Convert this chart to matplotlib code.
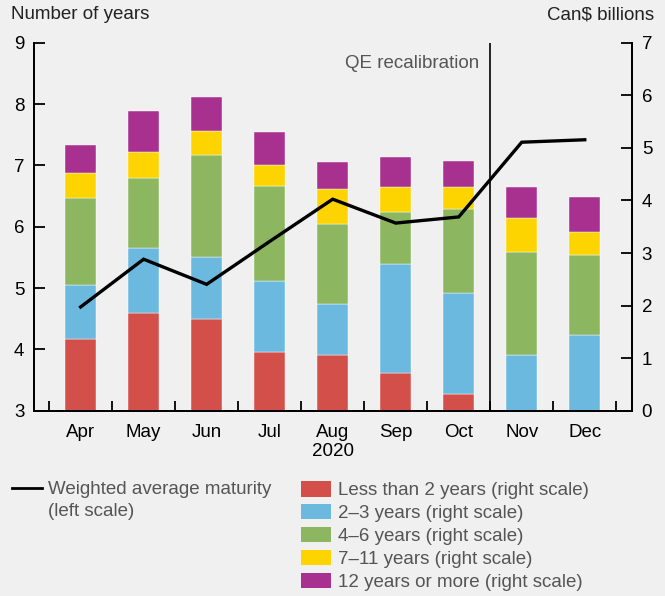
import matplotlib
matplotlib.use("Agg")
import matplotlib.pyplot as plt
import numpy as np
from matplotlib.lines import Line2D
from matplotlib.patches import Patch

plt.rcParams['font.family'] = ['Liberation Sans', 'DejaVu Sans']

# data
months = ['Apr', 'May', 'Jun', 'Jul', 'Aug\n2020', 'Sep', 'Oct', 'Nov', 'Dec']
wam = [4.69, 5.47, 5.06, 5.76, 6.45, 6.06, 6.16, 7.38, 7.42]  # years, left scale

lt2 = [1.36, 1.86, 1.75, 1.12, 1.06, 0.72, 0.32, 0.0, 0.0]
y2_3 = [1.04, 1.24, 1.18, 1.34, 0.96, 2.08, 1.91, 1.05, 1.44]
y4_6 = [1.65, 1.32, 1.94, 1.81, 1.54, 0.98, 1.61, 1.97, 1.52]
y7_11 = [0.47, 0.50, 0.45, 0.40, 0.65, 0.47, 0.42, 0.65, 0.44]
y12p = [0.54, 0.78, 0.65, 0.64, 0.53, 0.58, 0.49, 0.59, 0.66]

series = [lt2, y2_3, y4_6, y7_11, y12p]
labels = ['Less than 2 years (right scale)', '2\u20133 years (right scale)',
          '4\u20136 years (right scale)', '7\u201311 years (right scale)',
          '12 years or more (right scale)']
colors = ['#d34f4a', '#6bb9de', '#8db660', '#fed400', '#a8318f']

bg = '#f0f0f0'
txt = '#555555'
fs = 13.5

fig = plt.figure(figsize=(6.65, 5.96), dpi=100, facecolor=bg)
ax = fig.add_axes([0.0511, 0.3112, 0.8993, 0.6167])
ax2 = ax.twinx()

x = np.arange(len(months))

# stacked bars on the right scale
bottom = np.zeros(len(months))
for vals, col in zip(series, colors):
    ax2.bar(x, vals, width=0.49, bottom=bottom, color=col,
            edgecolor='white', linewidth=0.3)
    bottom += np.array(vals)

# line on the left scale, drawn on top of the bars
ax.set_zorder(ax2.get_zorder() + 1)
ax.patch.set_visible(False)
ax2.patch.set_facecolor('white')
ax.plot(x, wam, color='black', lw=2.4, solid_joinstyle='miter')

ax.set_xlim(-0.74, 8.75)
ax.set_ylim(3, 9)
ax2.set_ylim(0, 7)

# QE recalibration marker
ax.axvline(6.5, color='black', lw=1.2)
ax.text(6.33, 8.66, 'QE recalibration', ha='right', va='center',
        fontsize=fs, color=txt)

for a in (ax, ax2):
    a.spines['top'].set_visible(False)
    for s in ('left', 'right', 'bottom'):
        a.spines[s].set_linewidth(1.3)

ax.set_yticks(np.arange(3, 10))
ax2.set_yticks(np.arange(0, 8))
ax.tick_params(axis='y', direction='in', length=8, width=1.3,
               labelsize=fs, pad=7, colors='black')
ax2.tick_params(axis='y', direction='in', length=8, width=1.3,
                labelsize=fs, pad=7, colors='black')

ax.set_xticks(x)
ax.set_xticklabels(months)
ax.tick_params(axis='x', which='major', length=0, labelsize=fs, pad=9.5)
ax.set_xticks(np.arange(-0.5, 9.0, 1.0), minor=True)
ax.tick_params(axis='x', which='minor', direction='in', length=7.5, width=1.3)

fig.text(0.017, 0.975, 'Number of years', ha='left', va='center',
         fontsize=fs, color='#222222')
fig.text(0.983, 0.975, 'Can$ billions', ha='right', va='center',
         fontsize=fs, color='#222222')

# legends
h_line = [Line2D([0], [0], color='black', lw=2),
          Line2D([0], [0], color='none')]
fig.legend(h_line, ['Weighted average maturity', '(left scale)'],
           loc='upper left', bbox_to_anchor=(0.018, 0.193),
           frameon=False, fontsize=fs, handlelength=1.6,
           handletextpad=0.32, labelspacing=0.25, borderpad=0,
           borderaxespad=0, labelcolor=txt)
h_bars = [Patch(facecolor=c, edgecolor='none') for c in colors]
fig.legend(h_bars, labels, loc='upper left',
           bbox_to_anchor=(0.4526, 0.193), frameon=False, fontsize=fs,
           handlelength=1.6, handleheight=0.9, handletextpad=0.37,
           labelspacing=0.25, borderpad=0, borderaxespad=0,
           labelcolor=txt)

fig.savefig('out.png', dpi=100, facecolor=bg)
